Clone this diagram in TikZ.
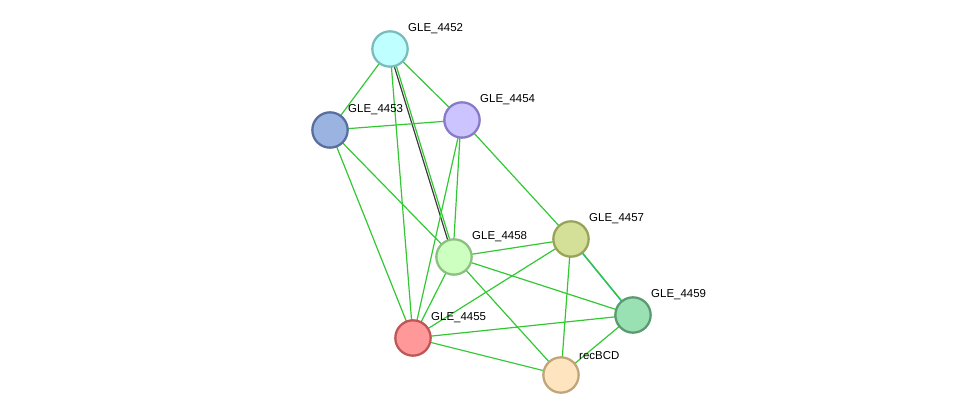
\documentclass[tikz,border=0pt]{standalone}
\usepackage{fontspec}
\setmainfont{Liberation Sans}
\usetikzlibrary{backgrounds}
\definecolor{edgegreen}{RGB}{51,200,51}
\definecolor{edgegray}{RGB}{60,60,60}
\definecolor{edgeblue}{RGB}{40,170,220}
\begin{document}
\begin{tikzpicture}[x=0.75pt, y=-0.75pt,
    prot/.style={circle, minimum size=26.5pt, inner sep=0pt, line width=1.7pt},
    lbl/.style={font=\fontsize{8.6pt}{10pt}\selectfont, inner sep=1.5pt, xshift=2pt},
    link/.style={edgegreen, line width=0.9pt}]
    \useasboundingbox (0,0) rectangle (976,420);

    % proteins
    \node[prot, fill={rgb,255:red,192;green,255;blue,255}, draw={rgb,255:red,122;green,188;blue,188},
        label={[lbl]north east:GLE\_4452}] (n4452) at (390,49) {};
    \node[prot, fill={rgb,255:red,204;green,196;blue,255}, draw={rgb,255:red,136;green,122;blue,200},
        label={[lbl]north east:GLE\_4454}] (n4454) at (462,120) {};
    \node[prot, fill={rgb,255:red,155;green,179;blue,224}, draw={rgb,255:red,88;green,110;blue,158},
        label={[lbl]north east:GLE\_4453}] (n4453) at (330,130) {};
    \node[prot, fill={rgb,255:red,204;green,255;blue,192}, draw={rgb,255:red,138;green,192;blue,128},
        label={[lbl]north east:GLE\_4458}] (n4458) at (454,257) {};
    \node[prot, fill={rgb,255:red,212;green,223;blue,152}, draw={rgb,255:red,152;green,163;blue,90},
        label={[lbl]north east:GLE\_4457}] (n4457) at (571,239) {};
    \node[prot, fill={rgb,255:red,153;green,224;blue,179}, draw={rgb,255:red,90;green,154;blue,112},
        label={[lbl]north east:GLE\_4459}] (n4459) at (633,315) {};
    \node[prot, fill={rgb,255:red,255;green,153;blue,153}, draw={rgb,255:red,192;green,85;blue,85},
        label={[lbl]north east:GLE\_4455}] (n4455) at (413,338) {};
    \node[prot, fill={rgb,255:red,255;green,228;blue,192}, draw={rgb,255:red,192;green,165;blue,122},
        label={[lbl]north east:recBCD}] (nrec) at (561,375) {};

    % interactions, kept behind the proteins
    \begin{scope}[on background layer]
    \draw[link] (n4452.center) -- (n4453.center);
    \draw[link] (n4452.center) -- (n4454.center);
    \draw[link] (n4452.center) -- (n4455.center);
    \draw[link, transform canvas={xshift=0.8pt}] (n4452.center) -- (n4458.center);
    \draw[edgegray, line width=0.9pt, transform canvas={xshift=-0.8pt}] (n4452.center) -- (n4458.center);
    \draw[link] (n4453.center) -- (n4454.center);
    \draw[link] (n4453.center) -- (n4458.center);
    \draw[link] (n4453.center) -- (n4455.center);
    \draw[link, transform canvas={xshift=-0.8pt}] (n4454.center) -- (n4458.center);
    \draw[link] (n4454.center) -- (n4455.center);
    \draw[link] (n4454.center) -- (n4457.center);
    \draw[link] (n4458.center) -- (n4457.center);
    \draw[link] (n4458.center) -- (n4459.center);
    \draw[link] (n4458.center) -- (n4455.center);
    \draw[link] (n4458.center) -- (nrec.center);
    \draw[edgeblue, line width=0.9pt, transform canvas={xshift=-0.7pt, yshift=0.6pt}] (n4457.center) -- (n4459.center);
    \draw[link, transform canvas={xshift=0.7pt, yshift=-0.6pt}] (n4457.center) -- (n4459.center);
    \draw[link] (n4457.center) -- (n4455.center);
    \draw[link] (n4457.center) -- (nrec.center);
    \draw[link] (n4459.center) -- (n4455.center);
    \draw[link] (n4459.center) -- (nrec.center);
    \draw[link] (n4455.center) -- (nrec.center);
    \end{scope}
\end{tikzpicture}
\end{document}
